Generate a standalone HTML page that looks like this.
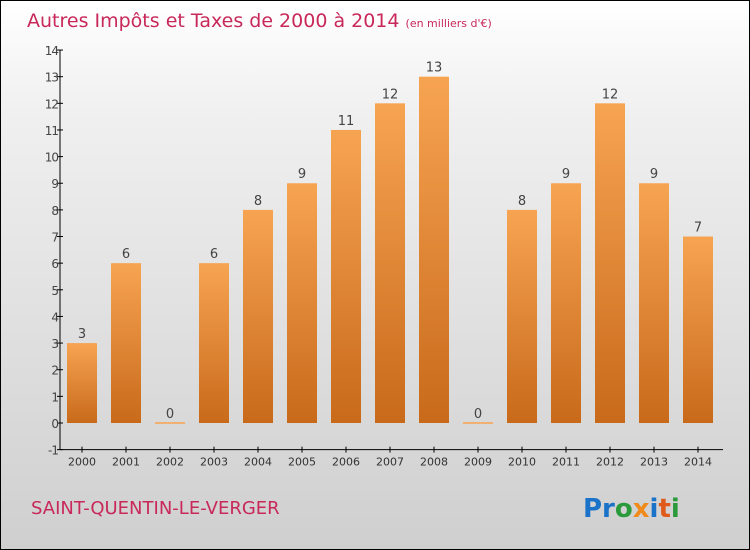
<!DOCTYPE html>
<html><head><meta charset="utf-8"><style>
body{margin:0}
#c{position:relative;width:748px;height:548px;border:1px solid #000;background:linear-gradient(#fff,#f0f0f0 20%,#cfcfcf);font-family:"DejaVu Sans","Liberation Sans",sans-serif;overflow:hidden}
</style></head><body>
<div id="c">
<svg width="748" height="548">
<defs><linearGradient id="bg" x1="0" y1="0" x2="0" y2="1"><stop offset="0" stop-color="#f7a452"/><stop offset="1" stop-color="#c86a1a"/></linearGradient></defs>
<text x="26" y="26" font-size="19" fill="#c8285a">Autres Impôts et Taxes de 2000 à 2014 <tspan font-size="11">(en milliers d'€)</tspan></text>
<g id="g"></g>
<text x="30" y="513" font-size="18" fill="#c8285a">SAINT-QUENTIN-LE-VERGER</text>
<text x="582" y="516" font-size="26" font-weight="bold"><tspan fill="#1a73c8">Pr</tspan><tspan fill="#2a9a3a">o</tspan><tspan fill="#f08a1a">x</tspan><tspan fill="#1a73c8">i</tspan><tspan fill="#e05a1a">t</tspan><tspan fill="#2a9a3a">i</tspan></text>
</svg></div>
<script>
const years=["2000","2001","2002","2003","2004","2005","2006","2007","2008","2009","2010","2011","2012","2013","2014"];
const values=[3,6,0,6,8,9,11,12,13,0,8,9,12,9,7];
const yTicks=[-1,0,1,2,3,4,5,6,7,8,9,10,11,12,13,14];
const NS="http://www.w3.org/2000/svg",g=document.getElementById('g');
const y=v=>422-v*26.64, x=i=>81+i*44;
function mk(t,a,txt){const e=document.createElementNS(NS,t);for(const k in a)e.setAttribute(k,a[k]);if(txt!=null)e.textContent=txt;g.appendChild(e);return e;}
let e=mk('line',{x1:59,y1:y(14),x2:59,y2:y(-1),stroke:'#000'});

e=mk('line',{x1:59,y1:y(-1),x2:722,y2:y(-1),stroke:'#000'});

yTicks.forEach(v=>{mk('line',{x1:56,x2:62,y1:y(v),y2:y(v),stroke:'#000'});
e=mk('text',{x:57,y:y(v)+5,'font-size':12,fill:'#444','text-anchor':'end','letter-spacing':'-1'},v);
});
years.forEach((yr,i)=>{const v=values[i];
mk('line',{x1:x(i),x2:x(i),y1:y(-1)-3,y2:y(-1)+3,stroke:'#000'});
e=mk('text',{x:x(i),y:y(-1)+16,'font-size':11,fill:'#333','text-anchor':'middle'},yr);

const h=Math.max(y(0)-y(v),2);
e=mk('rect',{x:x(i)-15,y:y(0)-h+(v?0:1),width:30,height:h,fill:v?'url(#bg)':'#f0b070'});

e=mk('text',{x:x(i),y:y(v)-5,'font-size':13,fill:'#444','text-anchor':'middle'},v);
});
</script>
</body></html>
